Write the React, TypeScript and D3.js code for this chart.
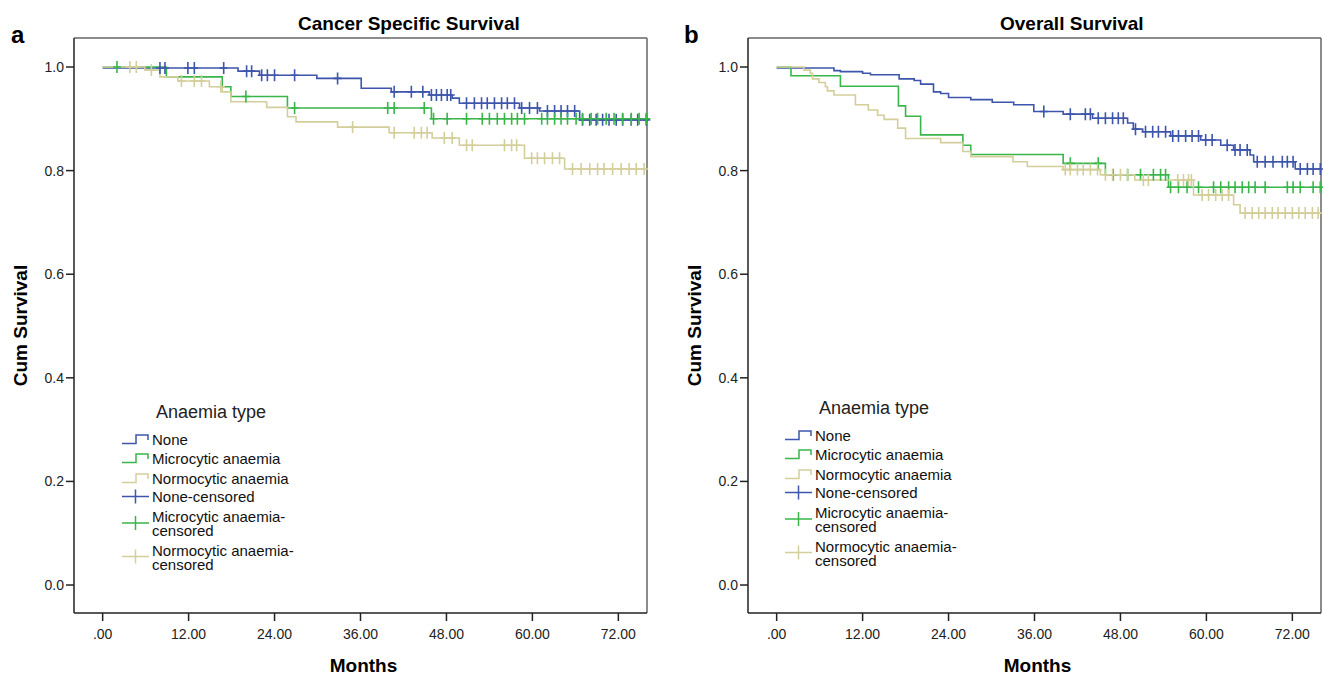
import React from 'react'
import * as d3 from 'd3'

// Kaplan-Meier curves (months, cumulative survival)
// panel a: cancer specific survival
const cssNoneTimes = [0, 18.9, 21.9, 29.9, 36.1, 40.3, 45.6, 48.8, 49.8, 58.2, 61.0, 66.6]
const cssNoneSurv = [0.998, 0.992, 0.984, 0.978, 0.959, 0.952, 0.946, 0.940, 0.930, 0.921, 0.915, 0.898]
const cssNoneCens = [8.0, 8.7, 11.9, 12.8, 16.9, 20.1, 20.8, 22.2, 23.0, 24.0, 26.8, 32.8, 40.7, 43.1, 44.7, 45.9, 46.6, 47.3, 48.1, 48.6, 50.8, 51.9, 52.9, 53.7, 54.7, 55.7, 56.5, 57.5, 58.5, 59.6, 60.7, 62.1, 63.1, 64.0, 64.9, 65.9, 67.0, 68.0, 68.9, 69.8, 70.7, 71.7, 72.6, 73.8, 74.7, 75.9]

const cssMicroTimes = [0, 8.9, 16.7, 17.9, 25.8, 45.9]
const cssMicroSurv = [1.0, 0.981, 0.962, 0.943, 0.921, 0.900]
const cssMicroCens = [2.0, 20.0, 26.8, 39.8, 40.7, 44.9, 46.2, 48.1, 50.8, 53.0, 54.0, 55.1, 56.1, 57.1, 57.9, 58.9, 61.3, 62.1, 63.1, 64.0, 64.9, 66.1, 67.0, 68.2, 69.1, 70.3, 71.4, 72.6, 73.8, 74.9, 75.9]

const cssNormoTimes = [0, 5.9, 8.0, 10.5, 14.9, 16.7, 17.9, 22.9, 25.8, 27.0, 32.8, 40.0, 46.0, 49.8, 58.9, 64.5]
const cssNormoSurv = [1.0, 0.994, 0.981, 0.973, 0.962, 0.952, 0.933, 0.922, 0.904, 0.894, 0.884, 0.873, 0.863, 0.849, 0.824, 0.803]
const cssNormoCens = [3.8, 4.7, 6.8, 11.0, 12.8, 13.8, 16.5, 34.9, 40.7, 43.5, 44.5, 45.3, 47.7, 48.8, 50.8, 51.6, 56.1, 57.1, 57.8, 59.9, 60.7, 61.7, 62.8, 63.8, 65.6, 66.8, 68.0, 69.1, 70.0, 71.2, 72.4, 73.5, 74.5, 75.6]

// panel b: overall survival
const osNoneTimes = [0, 8.0, 8.9, 12.0, 13.1, 17.1, 19.2, 20.1, 21.9, 22.9, 24.0, 27.1, 30.1, 33.1, 35.9, 40.0, 44.1, 49.0, 49.8, 51.1, 55.0, 59.2, 62.0, 63.8, 66.1, 66.6, 72.4]
const osNoneSurv = [0.998, 0.993, 0.991, 0.988, 0.985, 0.977, 0.974, 0.967, 0.952, 0.949, 0.941, 0.937, 0.932, 0.927, 0.914, 0.909, 0.901, 0.892, 0.880, 0.875, 0.867, 0.859, 0.849, 0.840, 0.830, 0.817, 0.803]
const osNoneCens = [37.3, 41.0, 43.1, 43.8, 44.9, 45.9, 46.9, 47.7, 48.4, 50.1, 51.5, 52.5, 53.3, 54.3, 55.3, 56.1, 57.1, 58.0, 58.9, 59.9, 60.8, 62.9, 64.0, 64.7, 65.7, 67.1, 68.2, 69.3, 70.6, 71.3, 72.1, 73.1, 74.1, 74.9, 75.9]

const osMicroTimes = [0, 2.0, 8.9, 17.0, 18.0, 20.1, 26.0, 27.1, 40.0, 45.9, 54.7]
const osMicroSurv = [1.0, 0.983, 0.963, 0.925, 0.905, 0.869, 0.849, 0.831, 0.814, 0.792, 0.768]
const osMicroCens = [41.0, 44.9, 47.0, 49.0, 50.8, 52.6, 53.6, 54.3, 55.0, 56.1, 57.3, 58.9, 61.0, 62.0, 63.1, 64.0, 65.0, 65.9, 66.8, 68.2, 71.3, 72.1, 73.1, 74.9, 75.9]

const osNormoTimes = [0, 3.8, 4.7, 5.0, 5.9, 6.8, 7.1, 8.0, 11.0, 12.8, 14.1, 15.0, 16.9, 18.0, 22.9, 26.0, 27.1, 33.0, 35.0, 40.0, 45.2, 50.0, 58.2, 63.8, 64.7]
const osNormoSurv = [1.0, 0.994, 0.988, 0.977, 0.970, 0.962, 0.954, 0.946, 0.927, 0.917, 0.907, 0.899, 0.882, 0.862, 0.854, 0.837, 0.827, 0.817, 0.808, 0.802, 0.792, 0.782, 0.753, 0.734, 0.718]
const osNormoCens = [40.3, 41.0, 42.0, 42.8, 43.8, 44.8, 45.9, 46.9, 48.0, 49.0, 51.2, 51.9, 56.0, 56.8, 57.5, 57.9, 59.4, 60.3, 61.3, 62.2, 63.1, 65.4, 66.4, 67.3, 68.2, 69.2, 70.0, 71.0, 72.0, 72.9, 73.8, 74.8, 75.6]

const groupNames = ['None', 'Microcytic anaemia', 'Normocytic anaemia']
const groupColors = ['#3d55ab', '#39b54a', '#d4ce9b']
const xTicks = [0, 12, 24, 36, 48, 60, 72]
const yTicks = [0, 0.2, 0.4, 0.6, 0.8, 1.0]

const FONT = '"Liberation Sans", Arial, sans-serif'
const TOP = 38
const BOTTOM = 613

type Series = { times: number[]; surv: number[]; cens: number[] }

function survAt(s: Series, t: number) {
  let v = s.surv[0]
  for (let i = 0; i < s.times.length; i++) if (s.times[i] <= t) v = s.surv[i]
  return v
}

function Panel({ left, right, letter, letterX, title, titleX, series, lx, ly }:
  { left: number; right: number; letter: string; letterX: number; title: string; titleX: number; series: Series[]; lx: number; ly: number }) {
  const x = d3.scaleLinear().domain([-4, 76]).range([left, right])
  const y = d3.scaleLinear().domain([-0.054, 1.056]).range([BOTTOM, TOP])
  const line = d3.line<[number, number]>().x(d => x(d[0])).y(d => y(d[1])).curve(d3.curveStepAfter)

  const legendRows = [
    { kind: 'step', g: 0, lines: ['None'], base: 441 },
    { kind: 'step', g: 1, lines: ['Microcytic anaemia'], base: 460 },
    { kind: 'step', g: 2, lines: ['Normocytic anaemia'], base: 480 },
    { kind: 'cens', g: 0, lines: ['None-censored'], base: 497.5 },
    { kind: 'cens', g: 1, lines: ['Microcytic anaemia-', 'censored'], base: 518 },
    { kind: 'cens', g: 2, lines: ['Normocytic anaemia-', 'censored'], base: 551.5 },
  ]

  return (
    <g>
      <text x={letterX} y={43} fontFamily={FONT} fontWeight="bold" fontSize={24}>{letter}</text>
      <text x={titleX} y={30} fontFamily={FONT} fontWeight="bold" fontSize={19}>{title}</text>

      {/* frame */}
      <line x1={left} x2={right} y1={TOP} y2={TOP} stroke="#666" strokeWidth={1.5} />
      <line x1={right} x2={right} y1={TOP} y2={BOTTOM} stroke="#666" strokeWidth={1.5} />
      <line x1={left} x2={left} y1={TOP} y2={BOTTOM} stroke="#222" strokeWidth={1.5} />
      <line x1={left} x2={right} y1={BOTTOM} y2={BOTTOM} stroke="#222" strokeWidth={1.5} />

      {yTicks.map(t => (
        <g key={'y' + t}>
          <line x1={left - 8} x2={left} y1={y(t)} y2={y(t)} stroke="#222" strokeWidth={1.5} />
          <text x={left - 10} y={y(t) + 5} textAnchor="end" fontFamily={FONT} fontSize={14} fill="#222">{d3.format('.1f')(t)}</text>
        </g>
      ))}
      {xTicks.map(t => (
        <g key={'x' + t}>
          <line x1={x(t)} x2={x(t)} y1={BOTTOM} y2={BOTTOM + 8} stroke="#222" strokeWidth={1.5} />
          <text x={x(t)} y={639} textAnchor="middle" fontFamily={FONT} fontSize={14} fill="#222">{t === 0 ? '.00' : t.toFixed(2)}</text>
        </g>
      ))}

      <text x={(left + right) / 2 + 3} y={672} textAnchor="middle" fontFamily={FONT} fontWeight="bold" fontSize={19}>Months</text>
      <text transform={`translate(${left - 47},${(TOP + BOTTOM) / 2}) rotate(-90)`} textAnchor="middle" fontFamily={FONT} fontWeight="bold" fontSize={19}>Cum Survival</text>

      {/* curves */}
      {series.map((s, i) => {
        const end = Math.max(s.times[s.times.length - 1], s.cens[s.cens.length - 1])
        const pts: [number, number][] = s.times.map((t, k) => [t, s.surv[k]] as [number, number])
        pts.push([end, s.surv[s.surv.length - 1]])
        return <path key={'c' + i} d={line(pts) || ''} fill="none" stroke={groupColors[i]} strokeWidth={1.6} />
      })}
      {series.map((s, i) => (
        <path key={'m' + i} fill="none" stroke={groupColors[i]} strokeWidth={1.6}
          d={s.cens.map(c => {
            const cx = x(c), cy = y(survAt(s, c))
            return `M${cx - 4},${cy}H${cx + 4}M${cx},${cy - 6}V${cy + 6}`
          }).join('')} />
      ))}

      {/* legend */}
      <g transform={`translate(0,${ly})`}>
        <text x={lx + 34} y={414} fontFamily={FONT} fontSize={18} fill="#222">Anaemia type</text>
        {legendRows.map((r, i) => {
          const col = groupColors[r.g]
          const mid = r.lines.length > 1 ? r.base + 1 : r.base - 5
          return (
            <g key={'l' + i}>
              {r.kind === 'step'
                ? <path d={`M${lx},${r.base - 1.5}H${lx + 14}V${r.base - 10}H${lx + 26}V${r.base - 5}`} fill="none" stroke={col} strokeWidth={1.5} />
                : <path d={`M${lx},${mid}H${lx + 27}M${lx + 13.5},${mid - 7}V${mid + 7}`} fill="none" stroke={col} strokeWidth={1.5} />}
              {r.lines.map((t, k) => (
                <text key={k} x={lx + 30} y={r.base + k * 14} fontFamily={FONT} fontSize={15} fill="#111">{t}</text>
              ))}
            </g>
          )
        })}
      </g>
    </g>
  )
}

export default function App() {
  const cssSeries: Series[] = [
    { times: cssNoneTimes, surv: cssNoneSurv, cens: cssNoneCens },
    { times: cssMicroTimes, surv: cssMicroSurv, cens: cssMicroCens },
    { times: cssNormoTimes, surv: cssNormoSurv, cens: cssNormoCens },
  ]
  const osSeries: Series[] = [
    { times: osNoneTimes, surv: osNoneSurv, cens: osNoneCens },
    { times: osMicroTimes, surv: osMicroSurv, cens: osMicroCens },
    { times: osNormoTimes, surv: osNormoSurv, cens: osNormoCens },
  ]
  return (
    <svg width={1323} height={676} style={{ position: 'absolute', left: 0, top: 0, background: '#fff' }}>
      <Panel left={74} right={647} letter="a" letterX={11} title="Cancer Specific Survival" titleX={298}
        series={cssSeries} lx={122} ly={4} />
      <Panel left={748} right={1321} letter="b" letterX={684} title="Overall Survival" titleX={1000}
        series={osSeries} lx={785} ly={0} />
    </svg>
  )
}
